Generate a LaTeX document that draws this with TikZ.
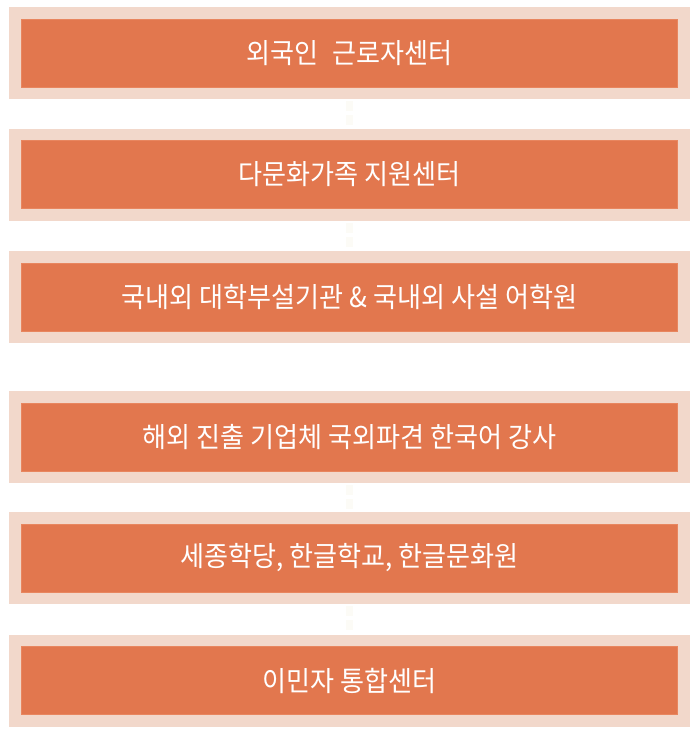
\documentclass[tikz,border=0pt]{standalone}
\usepackage{fontspec}
\newfontfamily\kr{Noto Sans CJK KR}
\definecolor{outerfill}{HTML}{F2D8CB}
\definecolor{innerfill}{HTML}{E2774E}
\definecolor{innerline}{HTML}{E8865F}
\definecolor{faint}{HTML}{FCFBF6}
\newcommand{\boxtext}[1]{\scalebox{0.985}[1.05]{#1}}
\tikzset{
  x=1pt, y=-1pt,
  outerbox/.style={fill=outerfill, draw=none, minimum width=681pt, minimum height=92pt, inner sep=0pt},
  innerbox/.style={fill=innerfill, draw=innerline, line width=0.8pt, minimum width=656pt, minimum height=68pt, inner sep=0pt,
     text=white, font=\kr\fontsize{26.5}{30}\selectfont},
  link/.style={draw=faint, line width=7pt, dash pattern=on 10pt off 4pt, shorten <=2pt, shorten >=3pt}
}
\begin{document}
\begin{tikzpicture}
\useasboundingbox (0,0) rectangle (700,731);
\foreach \n/\y in {1/53, 2/174.5, 3/297, 4/437, 5/558, 6/680.5} {
  \node[outerbox] (o\n) at (349.5,\y) {};
}
\node[innerbox] (b1) at (349.5,53) {\boxtext{외국인\hspace{0.5em}근로자센터}};
\node[innerbox] (b2) at (349.5,174.5) {\boxtext{다문화가족 지원센터}};
\node[innerbox] (b3) at (349.5,297) {\boxtext{국내외 대학부설기관 \& 국내외 사설 어학원}};
\node[innerbox] (b4) at (349.5,437) {\boxtext{해외 진출 기업체 국외파견 한국어 강사}};
\node[innerbox] (b5) at (349.5,558) {\boxtext{세종학당, 한글학교, 한글문화원}};
\node[innerbox] (b6) at (349.5,680.5) {\boxtext{이민자 통합센터}};
\draw[link] (o1.south) -- (o2.north);
\draw[link] (o2.south) -- (o3.north);
\draw[link] (o4.south) -- (o5.north);
\draw[link] (o5.south) -- (o6.north);
\end{tikzpicture}
\end{document}
